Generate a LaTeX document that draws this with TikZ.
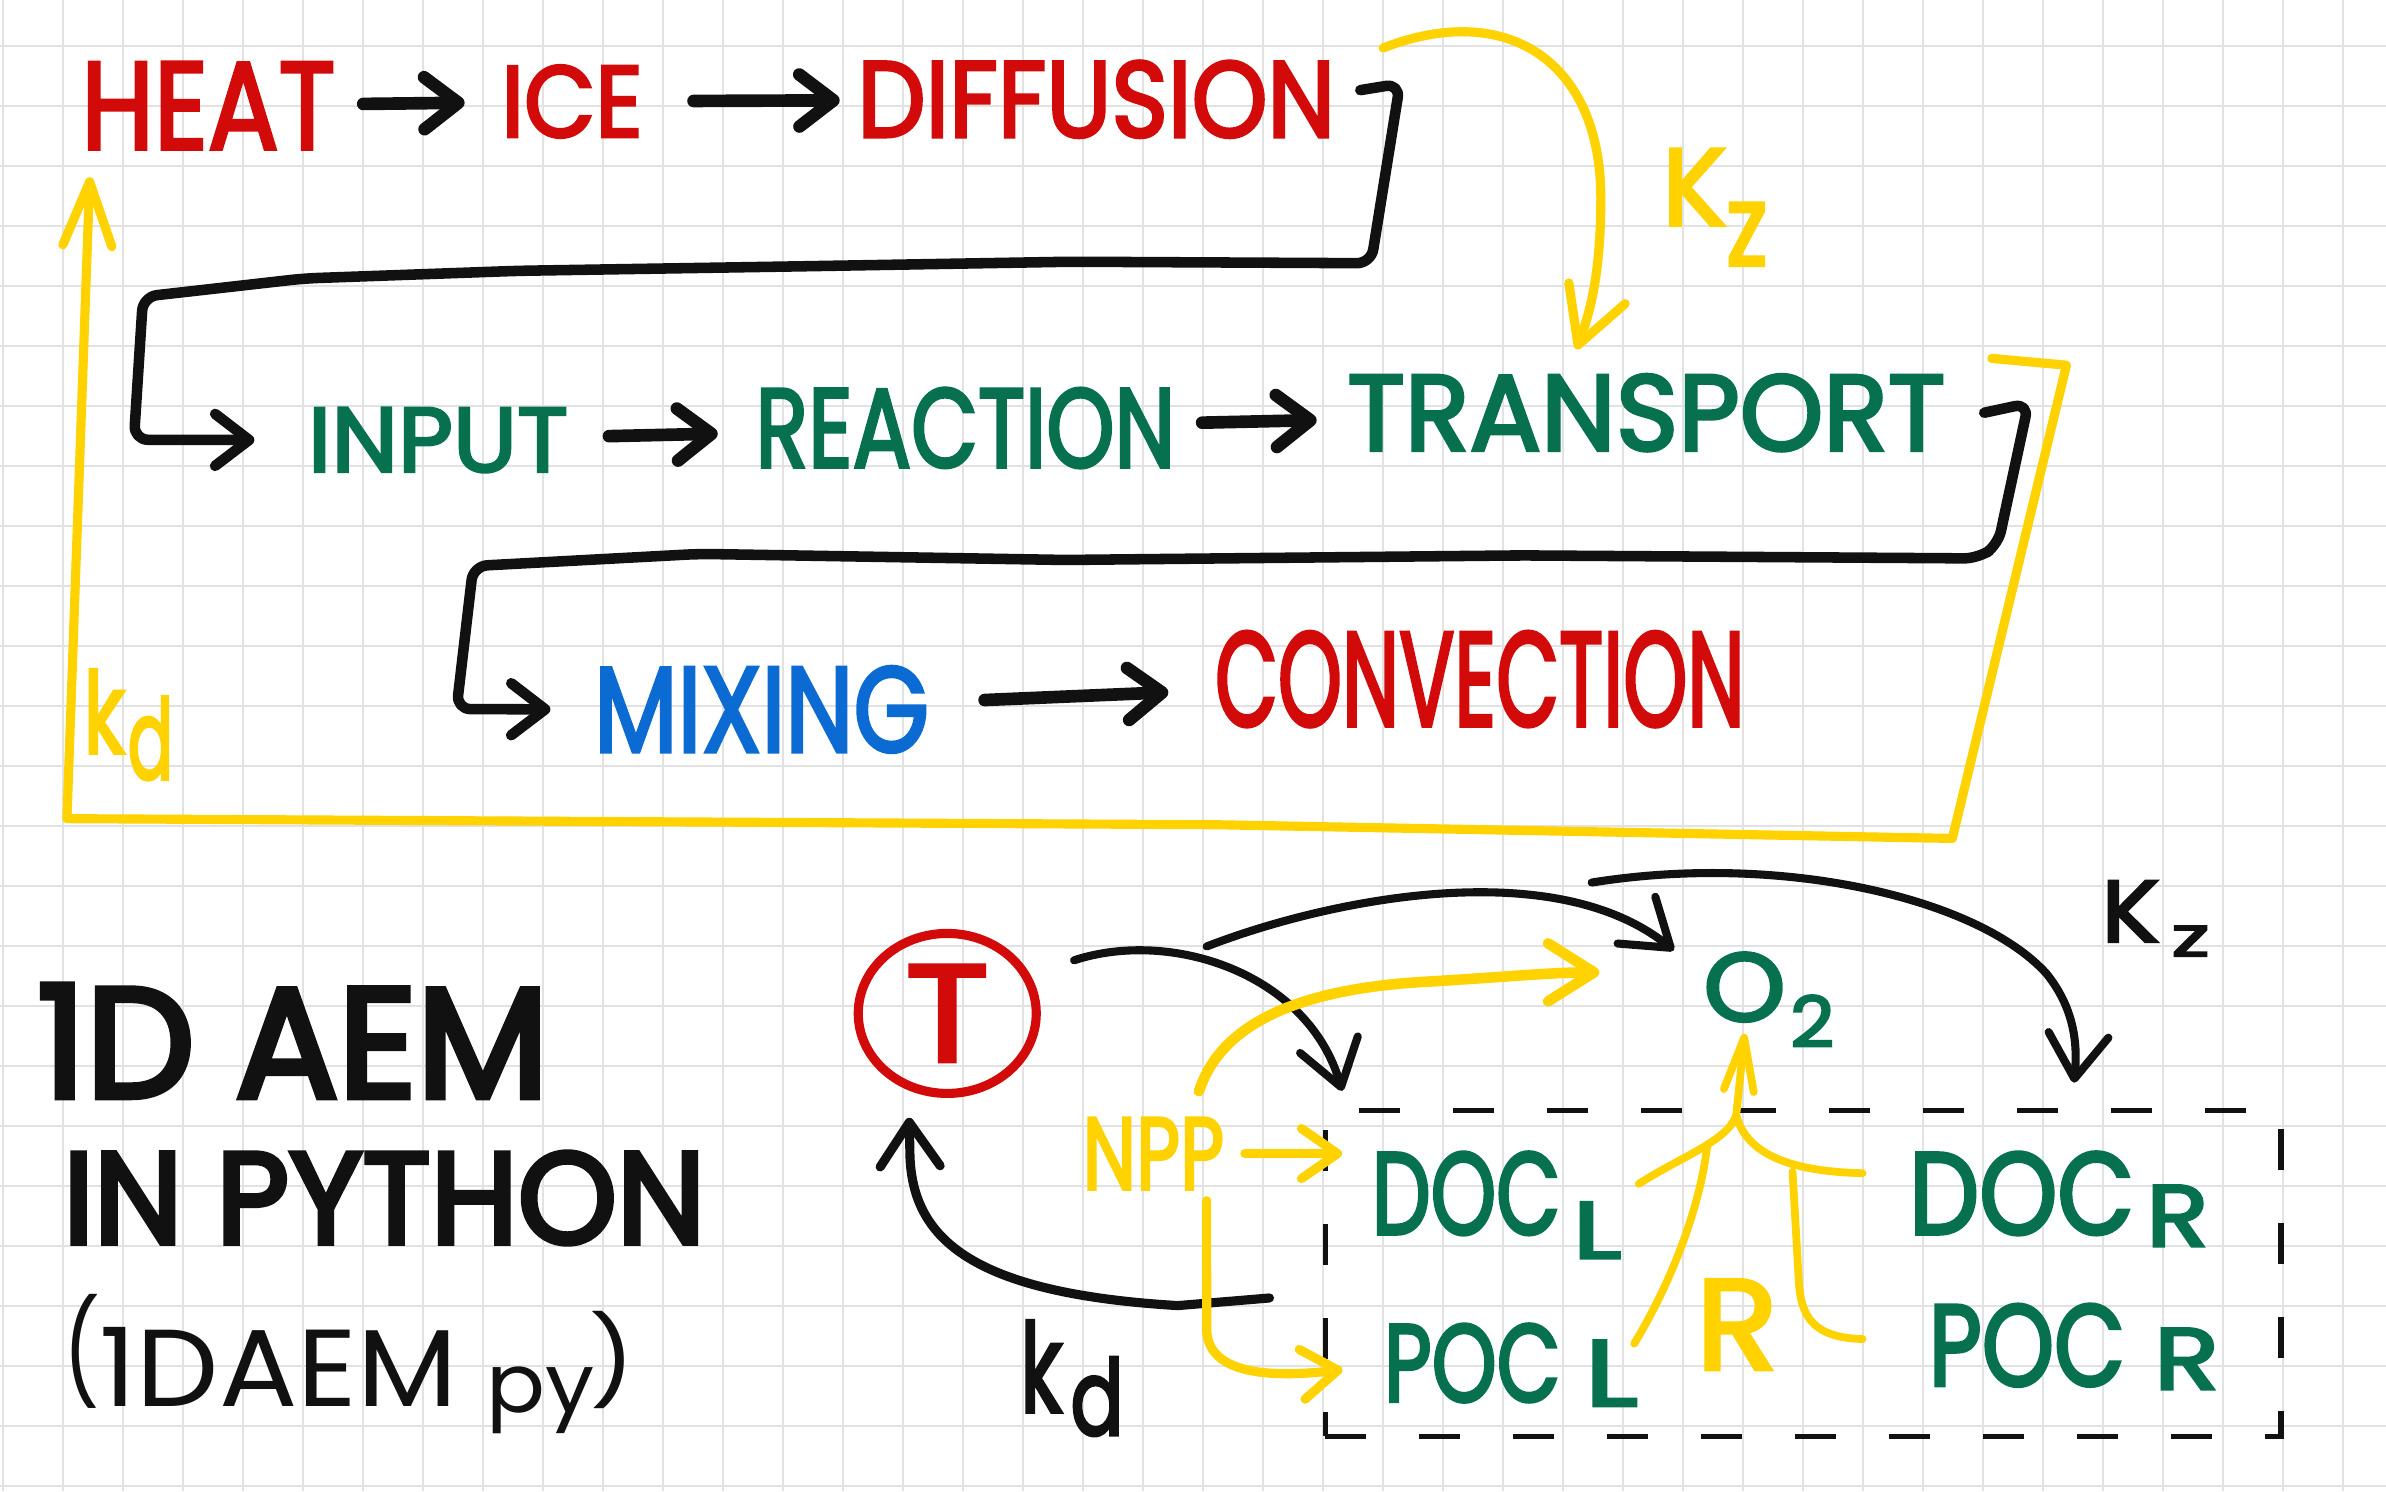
\documentclass[tikz,border=0pt]{standalone}
\usepackage{fontspec}
\newfontfamily\handfont[FakeBold=3]{Poppins}
\newfontfamily\headfont[FakeBold=4]{Poppins}
\newfontfamily\thinfont{Poppins}
\usepackage{graphicx}
\usepackage{xcolor}
\usepackage{tikz}
\usetikzlibrary{arrows.meta,positioning,shapes.geometric,fit}
\definecolor{hred}{HTML}{D20A0A}
\definecolor{hgreen}{HTML}{07714F}
\definecolor{hblue}{HTML}{0B6BD2}
\definecolor{hyel}{HTML}{FFD200}
\definecolor{hink}{HTML}{111111}
\definecolor{paper}{HTML}{E2E2E2}
\newlength{\pxl}
\setlength{\pxl}{0.15217mm}
% hand lettering: text squeezed into a box of w x h (in px)
\newcommand{\hw}[3]{\resizebox{#1\pxl}{#2\pxl}{#3}}
\tikzset{
  word/.style={font=\handfont, inner sep=0pt, anchor=base west},
  redw/.style={word, text=hred},
  greenw/.style={word, text=hgreen},
  bluew/.style={word, text=hblue},
  yelw/.style={word, text=hyel},
  inkw/.style={word, text=hink},
  headw/.style={word, text=hink, font=\headfont},
  tcirc/.style={ellipse, draw=hred, line width=2.6pt, minimum width=17.8mm,
                minimum height=16mm, inner sep=0pt, text=hred, font=\handfont},
  dbox/.style={draw=hink, line width=1.5pt, dash pattern=on 4.1mm off 5.3mm,
               inner sep=0pt},
  ar/.style={-{Straight Barb[length=3.4mm,width=5.2mm,round]}, line width=3.6pt,
             draw=hink, line cap=round},
  conn/.style={ar, line width=3pt, rounded corners=4pt, line join=round},
  bkt/.style={-{Straight Barb[length=4.4mm,width=6mm,round]}, line width=2.3pt,
              draw=hink, line cap=round},
  yl/.style={-{Straight Barb[length=5.5mm,width=6mm,round]}, line width=2.6pt,
             draw=hyel, line cap=round, line join=round},
  ym/.style={line width=2.2pt, draw=hyel, line cap=round},
  gridln/.style={draw=paper, line width=0.6pt},
}
\begin{document}
\begin{tikzpicture}[x=0.15217mm, y=-0.15217mm, node distance=3.5mm]
  \useasboundingbox (0,0) rectangle (1568,980);
  \fill[white] (0,0) rectangle (1568,980);
  % --- squared paper ---
  \foreach \i in {0,...,39} \draw[gridln] ({1.7+39.43*\i},0) -- ({1.7+39.43*\i},980);
  \foreach \j in {0,...,24} \draw[gridln] (0,{30+39.43*\j}) -- (1568,{30+39.43*\j});

  % --- first row ---
  \node[redw] (heat) at (53,98) {\hw{167}{57}{HEAT}};
  \node[redw] (ice) at (329,90) {\hw{93}{47}{ICE}};
  \node[redw] (diff) at (563,90) {\hw{314}{50}{DIFFUSION}};

  % --- second row ---
  \node[greenw] (input) at (202,310) {\hw{171}{42}{INPUT}};
  \node[greenw] (react) at (496,307) {\hw{276}{52}{REACTION}};
  \node[greenw] (transp) at (885,296) {\hw{393}{50}{TRANSPORT}};

  % --- third row ---
  \node[bluew] (mixing) at (390,494) {\hw{220}{56}{MIXING}};
  \node[redw] (conv) at (798,477) {\hw{348}{62}{CONVECTION}};

  \node[yelw] (kdl) at (54.5,495) {\hw{27}{55}{k}\hspace{2\pxl}\raisebox{-17\pxl}{\hw{30}{54}{d}}};
  \node[yelw] (kzl) at (1092,148) {\hw{42}{50}{K}\raisebox{-26.5\pxl}{\hw{27}{41}{z}}};

  \draw[ar, shorten <=2.7mm, shorten >=3.6mm] (heat) -- (ice);
  \draw[ar, shorten <=5mm, shorten >=1.7mm] (ice) -- (diff);
  \draw[ar, shorten <=4mm, shorten >=3.7mm] (input) -- (react);
  \draw[ar, shorten <=2.6mm, shorten >=3mm] (react) -- (transp);
  \draw[ar, shorten <=5.5mm, shorten >=4.6mm] (mixing) -- (conv);

  \draw[conn, shorten >=5.3mm] ([shift={(16,-6)}]diff.east) -- (920,55) -- (901,173)
       -- (704,172) -- (528,175) -- (340,178) -- (200,183) -- (94,195) -- (88,289)
       -- (input.west);
  \draw[conn, shorten >=4.3mm] ([shift={(25,0)}]transp.east) -- (1333,265) -- (1313,358)
       -- (1300,367) -- (1000,365) -- (700,368) -- (460,364) -- (311,372) -- (300,466)
       -- (mixing.west);

  % --- yellow feedbacks ---
  \draw[yl, -{Straight Barb[length=6.4mm,width=4.9mm,round]}]
       ([shift={(30,-10)}]transp.north east) -- (1358,240) -- (1283,551) -- (800,542)
       -- (44,538) -- ([shift={(6,18)}]heat.south west);
  \draw[yl] ([shift={(31,-8)}]diff.north east) .. controls (990,0) and (1052,40) .. (1052,130)
       .. controls (1052,180) and (1045,205) .. ([shift={(-46,-16)}]transp.north);

  % --- 1D AEM ---
  \node[headw] (title1) at (24,721) {\hw{336}{74}{1D AEM}};
  \node[headw] (title2) at (41,817) {\hw{422}{60}{IN PYTHON}};
  \node[inkw, font=\thinfont] (title3) at (41,924)
       {\raisebox{11\pxl}{\resizebox*{24\pxl}{75\pxl}{(}}\hw{235}{52}{1DAEM}\hspace{19\pxl}%
        \raisebox{-4\pxl}{\hw{71}{30}{py}}\hspace{-3\pxl}%
        \raisebox{9\pxl}{\resizebox*{30\pxl}{64\pxl}{)}}};

  % --- sketch of the model ---
  \node[tcirc] (T) at (622.5,666) {\hw{55}{63}{T}};
  \node[greenw] (o2) at (1119,671) {\hw{54}{45}{O}\hspace{3\pxl}\raisebox{-17\pxl}{\hw{29}{34}{2}}};
  \node[yelw] (npp) at (711,781.6) {\hw{93}{47}{NPP}};
  \node[greenw] (docL) at (901,811) {\hw{124}{54}{DOC}\hspace{8\pxl}\raisebox{-16\pxl}{\hw{32}{37}{L}}};
  \node[greenw] (pocL) at (909,921) {\hw{116}{51}{POC}\hspace{16\pxl}\raisebox{-3\pxl}{\hw{35}{43}{L}}};
  \node[greenw] (docR) at (1254,811) {\hw{148}{54}{DOC}\hspace{8\pxl}\raisebox{-8\pxl}{\hw{41}{40}{R}}};
  \node[greenw] (pocR) at (1267,910.6) {\hw{129}{53.6}{POC}\hspace{19\pxl}\raisebox{-2.4\pxl}{\hw{43}{40}{R}}};
  \node[dbox, fit={(871,730) (1499,944)}] (box) {};
  \node[yelw] (rl) at (1114,900) {\hw{54}{59}{R}};
  \node[inkw] (kzb) at (1380.6,619) {\hw{38}{40}{K}\hspace{8\pxl}\raisebox{-9.5\pxl}{\hw{25}{20}{z}}};
  \node[inkw] (kdb) at (670,928) {\hw{27.5}{60}{k}\hspace{5.5\pxl}\raisebox{-15\pxl}{\hw{35}{51}{d}}};

  \coordinate (tarc) at (793,622);
  \coordinate (kzarc) at (1046,580);
  \coordinate (rj) at (1141,733);
  \coordinate (rjl) at (1122,752);
  \coordinate (rjr) at (1178,770);

  \draw[bkt, shorten <=4.6mm, shorten >=1.8mm] (T.25) .. controls (770,610) and (860,640)
       .. ([shift={(16,0)}]box.north west);
  \draw[bkt] (tarc) .. controls (870,592) and (1020,560) .. ([shift={(-19,-1)}]o2.north west);
  \draw[bkt] (kzarc) .. controls (1170,560) and (1300,590) .. (1345,640)
       .. controls (1365,665) and (1365,690) .. ([shift={(10,-45)}]docR.north);
  \draw[bkt, line width=2.6pt] ([shift={(-35,16)}]box.west) -- (774,858)
       .. controls (640,850) and (600,815) .. (598,760) -- ([shift={(-25,13)}]T.south);

  \draw[yl, -{Straight Barb[length=3.6mm,width=5mm,round]}, shorten <=2mm, shorten >=2.9mm]
       (npp.east) -- (npp.east -| docL.west);
  \draw[yl, -{Straight Barb[length=3.6mm,width=5mm,round]}, shorten >=4.1mm]
       ([shift={(35,7)}]npp.south) -- (793,875) .. controls (795,905) and (840,905) .. (pocL.west);
  \draw[yl, line width=3pt, -{Straight Barb[length=4.6mm,width=5.8mm,round]}]
       ([shift={(-17,-17)}]npp.north east) .. controls (800,680) and (840,650) .. (940,645)
       .. controls (990,642) and (1020,639) .. ([shift={(-68,-18)}]o2.west);

  \draw[ym] ([shift={(11,-14)}]docL.east) .. controls (1105,760) and (1135,750) .. (rj);
  \draw[ym] ([shift={(-30,-17)}]docR.west) .. controls (1180,770) and (1148,760) .. (rj);
  \draw[ym] ([shift={(-3,-14)}]pocL.east) .. controls (1100,840) and (1118,790) .. (rjl);
  \draw[ym] ([shift={(-43,-5)}]pocR.west) .. controls (1192,879) and (1183,866) .. (1182,840)
       -- (rjr);
  \draw[ym, -{Straight Barb[length=5.3mm,width=3mm,round]}] (rj) -- ([shift={(-16,-9)}]o2.south);
\end{tikzpicture}
\end{document}
